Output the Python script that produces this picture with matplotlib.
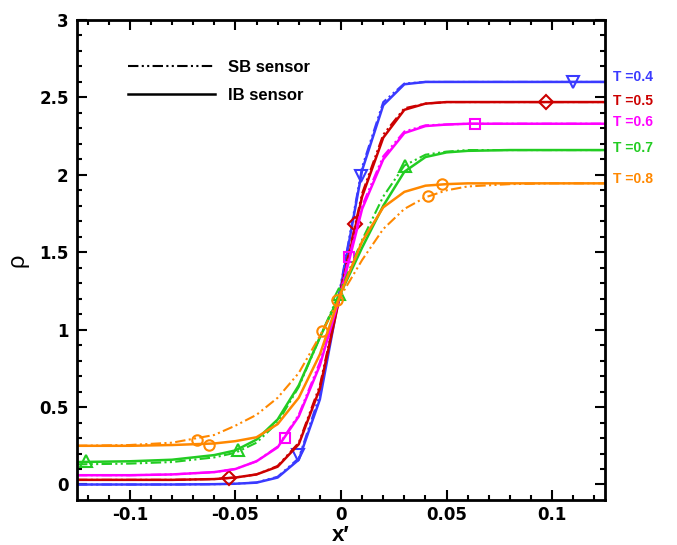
import numpy as np
import matplotlib
matplotlib.use('Agg')
from matplotlib import pyplot as plt
from matplotlib.lines import Line2D

plt.rcParams['font.family'] = ['Liberation Sans', 'DejaVu Sans']
plt.rcParams['axes.unicode_minus'] = False

# x' grid shared by all profiles
x = [-0.125, -0.1, -0.08, -0.06, -0.05, -0.04, -0.03, -0.02, -0.01, 0.0,
     0.01, 0.02, 0.03, 0.04, 0.05, 0.06, 0.08, 0.1, 0.125]

# density profiles, IB sensor (solid)
ib_04 = [0.0, 0.0, 0.0, 0.002, 0.005, 0.012, 0.045, 0.16, 0.55, 1.28,
         2.03, 2.45, 2.585, 2.6, 2.6, 2.6, 2.6, 2.6, 2.6]
ib_05 = [0.03, 0.03, 0.03, 0.035, 0.045, 0.065, 0.115, 0.26, 0.62, 1.25,
         1.86, 2.24, 2.42, 2.46, 2.47, 2.47, 2.47, 2.47, 2.47]
ib_06 = [0.06, 0.06, 0.065, 0.08, 0.1, 0.15, 0.24, 0.44, 0.77, 1.24,
         1.78, 2.10, 2.27, 2.315, 2.325, 2.33, 2.33, 2.33, 2.33]
ib_07 = [0.145, 0.15, 0.16, 0.19, 0.22, 0.29, 0.42, 0.64, 0.95, 1.24,
         1.53, 1.80, 2.02, 2.115, 2.145, 2.155, 2.16, 2.16, 2.16]
ib_08 = [0.25, 0.25, 0.255, 0.265, 0.28, 0.305, 0.39, 0.56, 0.84, 1.24,
         1.57, 1.79, 1.89, 1.93, 1.94, 1.945, 1.945, 1.945, 1.945]

# density profiles, SB sensor (dash-dot-dot)
sb_04 = [0.0, 0.0, 0.0, 0.002, 0.005, 0.013, 0.05, 0.17, 0.58, 1.3,
         2.05, 2.47, 2.59, 2.6, 2.6, 2.6, 2.6, 2.6, 2.6]
sb_05 = [0.03, 0.03, 0.03, 0.035, 0.045, 0.065, 0.12, 0.27, 0.64, 1.27,
         1.88, 2.26, 2.43, 2.46, 2.47, 2.47, 2.47, 2.47, 2.47]
sb_06 = [0.06, 0.06, 0.065, 0.08, 0.1, 0.15, 0.245, 0.45, 0.79, 1.26,
         1.8, 2.12, 2.28, 2.32, 2.325, 2.33, 2.33, 2.33, 2.33]
sb_07 = [0.13, 0.135, 0.145, 0.175, 0.205, 0.27, 0.40, 0.63, 0.95, 1.26,
         1.58, 1.86, 2.06, 2.13, 2.15, 2.16, 2.16, 2.16, 2.16]
sb_08 = [0.25, 0.255, 0.27, 0.32, 0.38, 0.45, 0.56, 0.72, 0.96, 1.22,
         1.45, 1.65, 1.78, 1.855, 1.9, 1.925, 1.94, 1.945, 1.945]

# symbol positions along the curves
mk_04_x = [0.110, 0.0095, -0.0205]
mk_04_y = [2.6, 1.99, 0.19]
mk_05_x = [0.097, 0.0066, -0.053]
mk_05_y = [2.47, 1.68, 0.04]
mk_06_x = [0.0635, 0.0039, -0.0265]
mk_06_y = [2.33, 1.47, 0.30]
mk_07_x = [0.0303, -0.0008, -0.0487, -0.1206]
mk_07_y = [2.056, 1.23, 0.22, 0.15]
mk_08_x = [0.0477, 0.0414, -0.0018, -0.0092, -0.0624, -0.0684]
mk_08_y = [1.94, 1.863, 1.19, 0.99, 0.253, 0.29]

temps = ['T =0.4', 'T =0.5', 'T =0.6', 'T =0.7', 'T =0.8']
label_y = [2.63, 2.48, 2.34, 2.175, 1.97]

colors = ['#3a3aff', '#cc0000', '#ff00ff', '#22cc22', '#ff8800']
markers = ['v', 'D', 's', '^', 'o']
msizes = [8, 7, 6.5, 8, 7.5]
ib = [ib_04, ib_05, ib_06, ib_07, ib_08]
sb = [sb_04, sb_05, sb_06, sb_07, sb_08]
mk = [(mk_04_x, mk_04_y), (mk_05_x, mk_05_y), (mk_06_x, mk_06_y),
      (mk_07_x, mk_07_y), (mk_08_x, mk_08_y)]

dashdotdot = (0, (5, 1.6, 1, 1.6, 1, 1.6))

fig = plt.figure(figsize=(6.77, 5.45), dpi=100)
ax = fig.add_axes([0.1137, 0.0826, 0.78, 0.8807])

for c, m, ms, yi, ys, (mx, my) in zip(colors, markers, msizes, ib, sb, mk):
    ax.plot(x, ys, color=c, lw=1.5, ls=dashdotdot)
    ax.plot(x, yi, color=c, lw=1.8)
    ax.plot(mx, my, ls='none', marker=m, ms=ms, mfc='none', mec=c, mew=1.5)

for t, ty, c in zip(temps, label_y, colors):
    ax.text(1.016, ty, t, color=c, fontsize=10, fontweight='bold',
            va='center', ha='left', transform=ax.get_yaxis_transform())

ax.set_xlim(-0.125, 0.125)
ax.set_ylim(-0.1, 3)
ax.set_xticks([-0.1, -0.05, 0, 0.05, 0.1])
ax.set_xticklabels(['-0.1', '-0.05', '0', '0.05', '0.1'])
ax.set_xticks(np.arange(-0.12, 0.121, 0.01), minor=True)
ax.set_yticks([0, 0.5, 1, 1.5, 2, 2.5, 3])
ax.set_yticklabels(['0', '0.5', '1', '1.5', '2', '2.5', '3'])
ax.set_yticks(np.arange(0, 3.01, 0.1), minor=True)
ax.tick_params(which='both', direction='in', top=True, right=True, width=1.5)
ax.tick_params(which='major', length=7, pad=6)
ax.tick_params(axis='x', which='major', pad=4)
ax.tick_params(which='minor', length=3.5)
for lab in ax.get_xticklabels() + ax.get_yticklabels():
    lab.set_fontweight('bold')
    lab.set_fontfamily('DejaVu Sans')
    lab.set_fontsize(12)
for sp in ax.spines.values():
    sp.set_linewidth(2)

ax.set_xlabel('x\u2032', fontsize=16, fontweight='bold', labelpad=1)
ax.set_ylabel('\u03c1', fontsize=17, labelpad=8)

handles = [Line2D([], [], color='black', lw=1.5, ls=dashdotdot),
           Line2D([], [], color='black', lw=1.8)]
leg = ax.legend(handles, ['SB sensor', 'IB sensor'], loc='upper left',
                bbox_to_anchor=(0.097, 0.916), frameon=False, borderpad=0,
                borderaxespad=0, handlelength=5.2, handletextpad=0.8,
                labelspacing=0.75, prop={'size': 12, 'weight': 'bold'})

fig.savefig('out.png', dpi=100)
